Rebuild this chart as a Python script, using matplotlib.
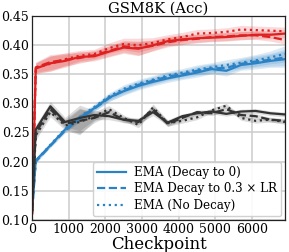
import matplotlib
matplotlib.use("Agg")
import matplotlib.pyplot as plt
import numpy as np

plt.rcParams['font.family'] = ['DejaVu Serif']

steps = [0, 100, 500, 900, 1300, 1700, 2100, 2500, 2900, 3300, 3700,
         4100, 4500, 4900, 5300, 5700, 6100, 6500, 6900]

# red run
red_solid = [0.11, 0.360, 0.369, 0.373, 0.380, 0.381, 0.389, 0.396, 0.394, 0.400, 0.407,
             0.410, 0.412, 0.413, 0.414, 0.416, 0.418, 0.418, 0.420]
red_dashed = [0.11, 0.362, 0.371, 0.375, 0.378, 0.383, 0.390, 0.398, 0.395, 0.399, 0.405,
              0.409, 0.411, 0.414, 0.415, 0.417, 0.417, 0.414, 0.409]
red_dotted = [0.11, 0.361, 0.368, 0.376, 0.382, 0.385, 0.395, 0.402, 0.400, 0.404, 0.410,
              0.414, 0.420, 0.421, 0.423, 0.427, 0.426, 0.425, 0.424]
red_std = [0.002, 0.009, 0.013, 0.011, 0.009, 0.008, 0.009, 0.010, 0.012, 0.009, 0.008,
           0.008, 0.007, 0.007, 0.007, 0.007, 0.007, 0.007, 0.007]

# blue run
blue_solid = [0.115, 0.202, 0.228, 0.255, 0.275, 0.292, 0.310, 0.321, 0.330, 0.337, 0.343,
              0.348, 0.353, 0.359, 0.356, 0.366, 0.369, 0.373, 0.376]
blue_dashed = [0.115, 0.200, 0.227, 0.253, 0.274, 0.291, 0.309, 0.322, 0.332, 0.339, 0.346,
               0.350, 0.356, 0.360, 0.361, 0.368, 0.372, 0.375, 0.379]
blue_dotted = [0.115, 0.201, 0.229, 0.256, 0.277, 0.294, 0.312, 0.325, 0.334, 0.341, 0.348,
               0.353, 0.358, 0.362, 0.366, 0.370, 0.374, 0.379, 0.385]
blue_std = [0.002, 0.003, 0.003, 0.004, 0.005, 0.005, 0.006, 0.007, 0.007, 0.007, 0.007,
            0.007, 0.008, 0.008, 0.009, 0.009, 0.010, 0.011, 0.014]

# black run
black_solid = [0.115, 0.255, 0.295, 0.268, 0.275, 0.280, 0.278, 0.272, 0.270, 0.285, 0.267,
               0.278, 0.283, 0.286, 0.282, 0.286, 0.287, 0.283, 0.281]
black_dashed = [0.115, 0.250, 0.290, 0.265, 0.270, 0.275, 0.285, 0.272, 0.268, 0.290, 0.265,
                0.275, 0.285, 0.283, 0.290, 0.280, 0.278, 0.272, 0.270]
black_dotted = [0.115, 0.245, 0.285, 0.262, 0.268, 0.278, 0.290, 0.275, 0.263, 0.293, 0.266,
                0.270, 0.276, 0.288, 0.296, 0.275, 0.270, 0.272, 0.268]
black_std = [0.002, 0.008, 0.008, 0.008, 0.022, 0.008, 0.006, 0.005, 0.005, 0.006, 0.005,
             0.004, 0.004, 0.004, 0.004, 0.004, 0.004, 0.004, 0.004]

labels = ['EMA (Decay to 0)', 'EMA Decay to 0.3 × LR', 'EMA (No Decay)']
styles = ['-', '--', ':']

runs = [
    ('#2a82c4', [blue_solid, blue_dashed, blue_dotted], blue_std),
    ('#e02020', [red_solid, red_dashed, red_dotted], red_std),
    ('#333333', [black_solid, black_dashed, black_dotted], black_std),
]

fig = plt.figure(figsize=(2.89, 2.52), dpi=100)
ax = fig.add_axes([0.111, 0.128, 0.875, 0.808])

x = np.array(steps)
for color, lines, std in runs:
    s = np.array(std)
    for ys, ls, lab in zip(lines, styles, labels):
        y = np.array(ys)
        ax.fill_between(x, y - s, y + s, color=color, alpha=0.17, linewidth=0)
        ax.plot(x, y, ls, color=color, lw=1.6,
                label=lab if color == '#2a82c4' else None)

ax.set_xlim(0, 6900)
ax.set_ylim(0.10, 0.45)
ax.set_xticks([0, 1000, 2000, 3000, 4000, 5000, 6000])
ax.set_yticks([0.10, 0.15, 0.20, 0.25, 0.30, 0.35, 0.40, 0.45])
ax.set_yticklabels(['0.10', '0.15', '0.20', '0.25', '0.30', '0.35', '0.40', '0.45'])
ax.tick_params(labelsize=9, length=0, pad=2)
ax.grid(True, color='#cccccc', lw=1.1)
ax.set_axisbelow(True)
for sp in ax.spines.values():
    sp.set_color('#222222')
    sp.set_linewidth(0.9)

ax.set_title('GSM8K (Acc)', fontsize=10.5, pad=1.5)
ax.set_xlabel('Checkpoint', fontsize=12, labelpad=0)
ax.legend(loc='lower right', fontsize=8.6, handlelength=2.4, borderaxespad=0.3,
          framealpha=0.9, edgecolor='#cccccc', labelspacing=0.3,
          borderpad=0.35, handletextpad=0.7)

fig.savefig('out.png', dpi=100)
